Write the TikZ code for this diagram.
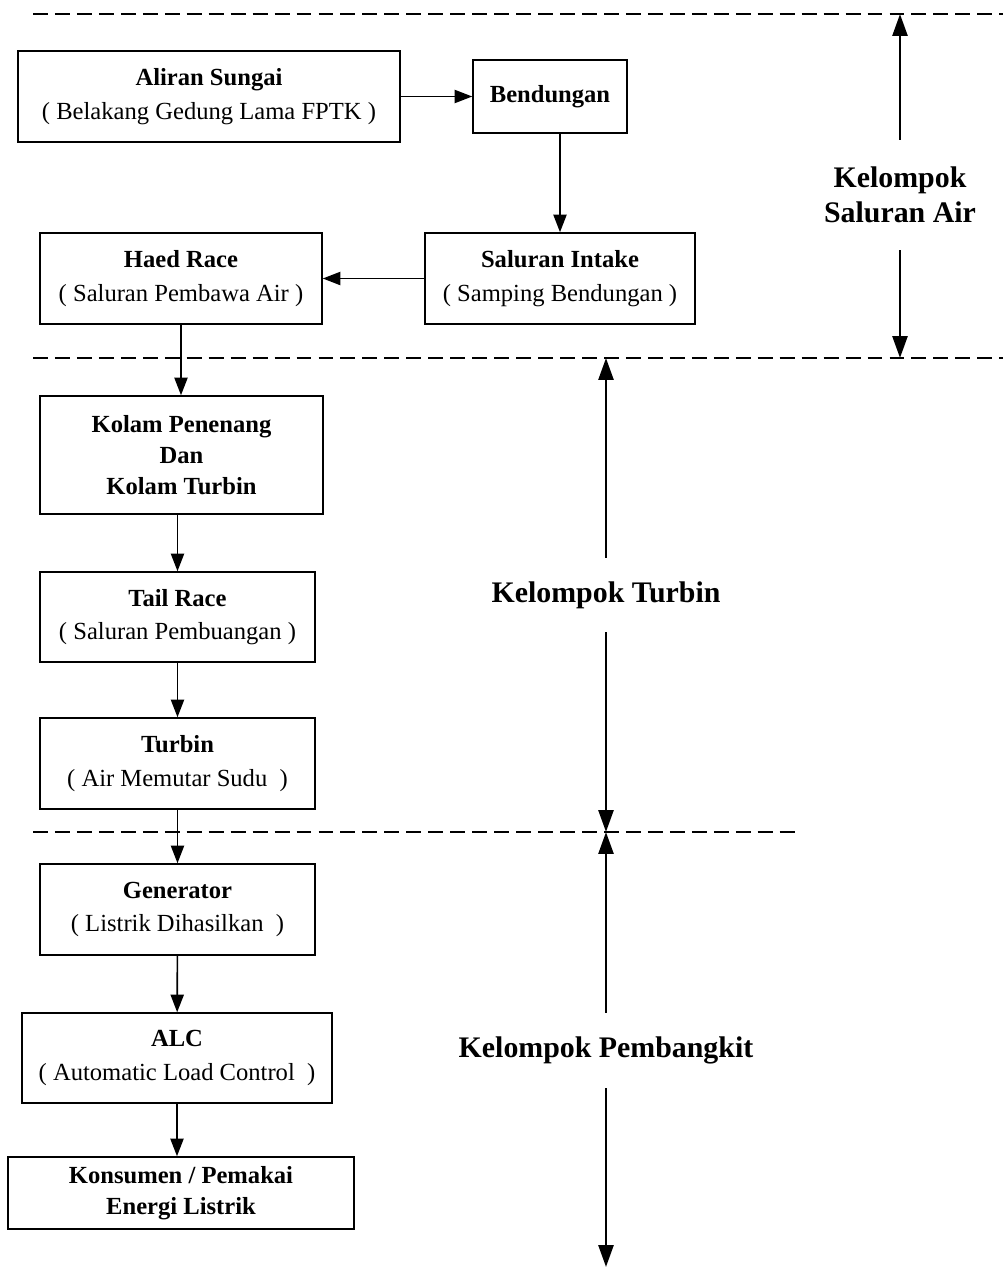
\documentclass[tikz,border=0pt]{standalone}
\usepackage{fontspec}
\setmainfont{Liberation Serif}
\usetikzlibrary{arrows.meta}

\tikzset{
  blok/.style={draw, line width=0.9pt, align=center, inner sep=2pt, font=\fontsize{14}{17.5}\selectfont},
  alur/.style={line width=0.9pt, -{Triangle[length=10pt,width=7.5pt]}},
  batas/.style={line width=0.85pt, dash pattern=on 8.5pt off 4pt},
  grup/.style={align=center, inner sep=0pt, font=\fontsize{17}{20}\selectfont\bfseries},
  grparrow/.style={line width=1.6pt, -{Triangle[length=12.5pt,width=8.5pt]}}
}

\begin{document}
\begin{tikzpicture}[x=0.02cm, y=-0.02cm]
    \useasboundingbox (0,0) rectangle (1003,1268);
    % Dashed borders
    \coordinate (b1a) at (33,14);   \coordinate (b1b) at (1003,14);
    \coordinate (b2a) at (33,358);  \coordinate (b2b) at (1003,358);
    \coordinate (b3a) at (33,832);  \coordinate (b3b) at (800,832);
    \draw[batas] (b1a) -- (b1b);
    \draw[batas] (b2a) -- (b2b);
    \draw[batas] (b3a) -- (b3b);
    % Saluran air
    \node[blok, minimum width=7.64cm, minimum height=1.82cm] (aliran) at (209,96.5) {\textbf{Aliran Sungai}\\[1.7pt]( Belakang Gedung Lama FPTK )};
    \node[blok, minimum width=3.08cm, minimum height=1.46cm] (bendungan) at (550,96.5) {\textbf{Bendungan}};
    \node[blok, minimum width=5.4cm, minimum height=1.82cm] (intake) at (560,278.5) {\textbf{Saluran Intake}\\[1.7pt]( Samping Bendungan )};
    \node[blok, minimum width=5.64cm, minimum height=1.82cm] (haed) at (181,278.5) {\textbf{Haed Race}\\[1.7pt]( Saluran Pembawa Air )};
    % Turbin
    \node[blok, minimum width=5.66cm, minimum height=2.36cm] (kolam) at (181.5,455) {\textbf{Kolam Penenang}\\\textbf{Dan}\\\textbf{Kolam Turbin}};
    \node[blok, minimum width=5.5cm, minimum height=1.8cm] (tail) at (177.5,617) {\textbf{Tail Race}\\[1.7pt]( Saluran Pembuangan )};
    \node[blok, minimum width=5.5cm, minimum height=1.82cm] (turbin) at (177.5,763.5) {\textbf{Turbin}\\[1.7pt]( Air Memutar Sudu~ )};
    % Pembangkit
    \node[blok, minimum width=5.5cm, minimum height=1.82cm] (generator) at (177.5,909.5) {\textbf{Generator}\\[1.7pt]( Listrik Dihasilkan~ )};
    \node[blok, minimum width=6.2cm, minimum height=1.8cm] (alc) at (177,1058) {\textbf{ALC}\\[1.7pt]( Automatic Load Control~ )};
    \node[blok, minimum width=6.92cm, minimum height=1.44cm] (konsumen) at (181,1193) {\textbf{Konsumen / Pemakai}\\\textbf{Energi Listrik}};
    % Flow
    \draw[alur] (aliran) -- (bendungan);
    \draw[alur] (bendungan.south -| intake.north) -- (intake.north);
    \draw[alur] (intake) -- (haed);
    \draw[alur] (haed.south) -- (haed.south |- kolam.north);
    \draw[alur] (kolam.south -| tail.north) -- (tail.north);
    \draw[alur] (tail) -- (turbin);
    \draw[alur] (turbin) -- (generator);
    \draw[alur] (generator) -- (alc);
    \draw[alur] (alc.south) -- (alc.south |- konsumen.north);
    % Group labels
    \node[grup, minimum height=2.2cm] (gsaluran) at (900,195) {Kelompok\\Saluran Air};
    \node[grup, minimum height=1.48cm] (gturbin) at (606,595) {Kelompok Turbin};
    \node[grup, minimum height=1.5cm] (gpembangkit) at (606,1050.5) {Kelompok Pembangkit};
    \coordinate (s1) at (900,14);  \coordinate (s2) at (900,358);
    \coordinate (t1) at (606,358); \coordinate (t2) at (606,832);
    \coordinate (p1) at (606,832); \coordinate (p2) at (606,1267);
    \draw[grparrow] (gsaluran.north) -- (s1);
    \draw[grparrow] (gsaluran.south) -- (s2);
    \draw[grparrow] (gturbin.north) -- (t1);
    \draw[grparrow] (gturbin.south) -- (t2);
    \draw[grparrow] (gpembangkit.north) -- (p1);
    \draw[grparrow] (gpembangkit.south) -- (p2);
\end{tikzpicture}
\end{document}
